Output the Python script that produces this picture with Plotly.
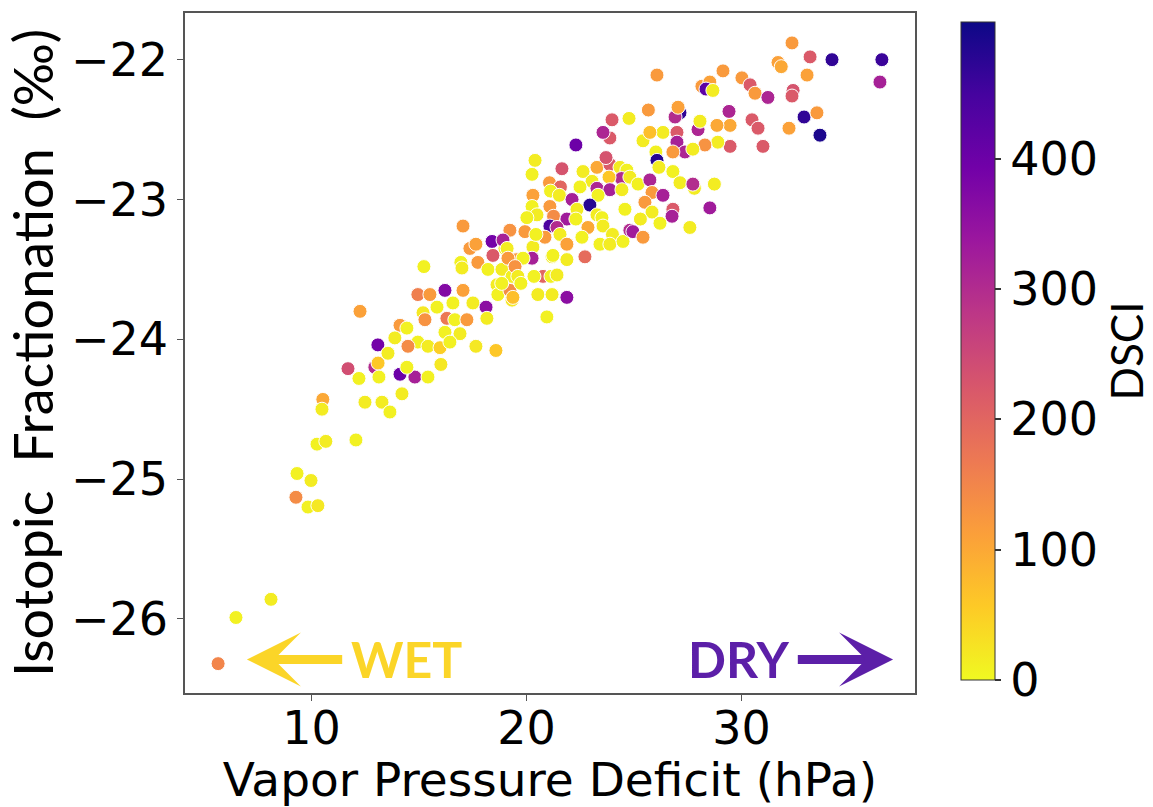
import plotly.graph_objects as go

# Vapor pressure deficit (hPa)
vpd = [
 5.66, 6.49, 8.12, 9.28, 9.33, 9.98, 9.84, 10.30, 10.26, 10.67, 12.07, 10.53, 10.49, 12.26, 11.70, 12.21,
 12.49, 12.95, 13.10, 13.14, 13.28, 13.65, 13.09, 13.56, 14.12, 14.81, 15.42, 14.21, 14.44, 16.02, 14.12, 14.44,
 13.88, 14.95, 14.49, 15.42, 15.98, 16.21, 16.91, 16.44, 17.65, 18.58, 15.23, 14.95, 15.51, 16.21, 17.05, 16.58,
 17.51, 15.84, 15.19, 15.28, 16.30, 16.67, 17.23, 18.12, 18.16, 16.95, 17.37, 17.65, 18.40, 18.44, 19.00, 17.00,
 17.74, 18.21, 18.86, 19.33, 19.56, 18.63, 18.67, 19.33, 19.23, 20.95, 20.53, 20.77, 21.14, 21.19, 21.88, 19.37,
 17.05, 18.85, 20.30,
 20.40, 20.26, 21.65, 22.30, 22.63, 23.28, 23.88, 23.70, 24.35, 24.67, 24.42, 23.84, 23.05, 22.49, 23.28, 23.88,
 24.44, 23.33, 21.07, 21.58, 21.12, 21.53, 20.30, 22.12, 22.95, 24.58, 21.09, 20.26, 20.49, 21.26, 20.02, 22.35,
 21.88, 21.09, 21.42, 22.30, 23.28, 23.51, 23.56, 22.86, 22.58, 24.00, 23.42, 23.88, 24.49, 24.81, 20.86, 19.93,
 19.23, 20.44, 21.56, 21.88, 21.23, 21.88, 22.72, 20.26, 19.84, 18.91, 19.10, 19.14, 19.47, 19.60, 19.74, 21.42,
 20.35, 21.19,
 26.07, 29.14, 31.70, 31.85, 32.35, 33.19, 34.21, 36.53, 36.44, 33.05, 30.02, 30.40, 30.63, 31.23, 32.40, 32.35,
 28.16, 28.53, 28.35, 28.67, 32.91, 33.51, 33.65, 32.21, 30.49, 30.77, 31.00, 29.42, 29.47, 29.47, 28.86, 28.90,
 28.30, 27.98, 28.07, 27.14, 26.91, 27.05, 26.35, 27.00, 27.00, 27.37, 26.81, 27.74, 26.02, 25.42, 25.74, 26.07,
 26.16, 26.81, 27.14, 25.67, 24.77, 23.98, 23.88, 23.56, 24.81, 25.19, 25.74, 25.84, 26.35, 25.51, 25.84, 26.81,
 26.77, 26.21, 25.30, 24.95, 25.42, 27.60, 27.81, 27.74, 28.74, 28.53,
]

# Isotopic fractionation (permil)
frac = [
 -26.32, -25.99, -25.86, -25.13, -24.96, -25.01, -25.20, -25.19, -24.75, -24.73, -24.72, -24.43, -24.50, -23.80, -24.21, -24.28,
 -24.45, -24.20, -24.17, -24.27, -24.45, -24.52, -24.04, -24.10, -24.25, -24.27, -24.27, -24.39, -24.20, -24.18, -23.90, -23.92,
 -23.99, -24.02, -24.05, -24.05, -24.06, -23.95, -23.96, -24.02, -24.05, -24.08, -23.48, -23.68, -23.68, -23.65, -23.65, -23.74,
 -23.74, -23.77, -23.81, -23.86, -23.85, -23.86, -23.86, -23.77, -23.85, -23.45, -23.35, -23.32, -23.30, -23.40, -23.35, -23.49,
 -23.45, -23.50, -23.50, -23.55, -23.43, -23.61, -23.68, -23.72, -23.65, -23.84, -23.68, -23.55, -23.55, -23.41, -23.70, -23.70,
 -23.19, -23.60, -23.34,
 -22.72, -22.82, -22.78, -22.61, -22.80, -22.77, -22.75, -22.70, -22.77, -22.79, -22.85, -22.84, -22.87, -22.91, -22.92, -22.93,
 -22.93, -22.97, -22.88, -22.91, -22.94, -22.97, -22.97, -23.00, -23.04, -23.07, -23.05, -23.05, -23.11, -23.12, -23.13, -23.07,
 -23.14, -23.19, -23.20, -23.14, -23.11, -23.13, -23.19, -23.20, -23.27, -23.25, -23.32, -23.32, -23.30, -23.22, -23.27, -23.23,
 -23.22, -23.25, -23.25, -23.32, -23.40, -23.43, -23.41, -23.42, -23.42, -23.29, -23.35, -23.42, -23.48, -23.55, -23.60, -23.54,
 -23.55, -23.68,
 -22.11, -22.08, -22.02, -22.05, -21.88, -21.98, -22.00, -22.00, -22.16, -22.11, -22.13, -22.18, -22.24, -22.27, -22.22, -22.26,
 -22.19, -22.16, -22.21, -22.22, -22.41, -22.38, -22.54, -22.49, -22.43, -22.49, -22.62, -22.37, -22.47, -22.62, -22.47, -22.59,
 -22.61, -22.50, -22.44, -22.38, -22.41, -22.34, -22.52, -22.52, -22.59, -22.66, -22.66, -22.64, -22.66, -22.58, -22.52, -22.72,
 -22.77, -22.80, -22.88, -22.36, -22.42, -22.43, -22.56, -22.52, -22.84, -22.89, -22.86, -22.95, -22.97, -23.02, -23.09, -23.07,
 -23.12, -23.17, -23.14, -23.23, -23.27, -23.20, -22.92, -22.89, -22.89, -23.06,
]

# Drought Severity and Coverage Index
dsci = [
 150, 10, 15, 140, 10, 15, 10, 20, 10, 15, 10, 100, 15, 110, 240, 10,
 15, 300, 60, 10, 15, 10, 390, 15, 400, 320, 10, 15, 10, 20, 120, 10,
 15, 10, 140, 15, 50, 10, 15, 10, 20, 60, 10, 160, 120, 370, 110, 10,
 15, 10, 20, 130, 170, 10, 120, 360, 15, 10, 120, 110, 390, 220, 10, 15,
 120, 10, 15, 10, 120, 15, 10, 20, 140, 10, 15, 200, 10, 15, 360, 70,
 120, 10, 15,
 15, 10, 230, 400, 15, 100, 220, 230, 15, 10, 300, 60, 15, 10, 310, 320,
 15, 10, 120, 200, 10, 15, 110, 320, 480, 10, 120, 10, 15, 140, 10, 15,
 330, 440, 300, 10, 15, 10, 15, 100, 10, 15, 10, 15, 10, 300, 120, 120,
 130, 10, 15, 110, 10, 15, 190, 320, 10, 320, 15, 120, 130, 15, 10, 15,
 10, 15,
 120, 120, 110, 100, 120, 220, 470, 460, 320, 110, 120, 220, 120, 310, 230, 220,
 120, 110, 420, 15, 470, 120, 490, 110, 220, 220, 220, 310, 100, 220, 100, 15,
 130, 310, 15, 470, 300, 110, 15, 220, 320, 310, 120, 15, 10, 15, 70, 480,
 15, 10, 15, 120, 15, 220, 220, 310, 15, 10, 310, 120, 320, 120, 15, 220,
 320, 10, 15, 330, 120, 15, 15, 300, 15, 330,
]

x_ticks = [10, 20, 30]
y_ticks = [-22, -23, -24, -25, -26]
cbar_ticks = [0, 100, 200, 300, 400]

fig = go.Figure()
fig.add_trace(go.Scatter(
    x=vpd, y=frac, mode="markers",
    marker=dict(
        size=14, color=dsci, colorscale="Plasma", reversescale=True,
        cmin=0, cmax=505,
        line=dict(color="white", width=1),
        colorbar=dict(
            x=1.063, xanchor="left", xpad=0, y=0.503, yanchor="middle", len=0.997,
            thickness=34, outlinewidth=1, outlinecolor="#333",
            ticks="outside", ticklen=6, tickwidth=1.5, tickcolor="#333",
            tickvals=cbar_ticks,
            tickfont=dict(family="DejaVu Sans", size=46, color="black"),
            title=dict(text="DSCI", side="right",
                       font=dict(family="Lato", size=44, color="black")),
        ),
    ),
    showlegend=False,
))

tick_font = dict(family="DejaVu Sans", size=46, color="black")
fig.update_xaxes(
    range=[4.12, 38.07], tickvals=x_ticks, tickfont=tick_font, automargin=False,
    showgrid=False, zeroline=False, showline=True, linecolor="#555", linewidth=1.5,
    mirror=True, ticks="outside", ticklen=6, tickcolor="#555", ticklabelstandoff=-12,
    title=dict(text="Vapor Pressure Deficit (hPa)", standoff=8,
               font=dict(family="DejaVu Sans", size=47, color="black")),
)
fig.update_yaxes(
    range=[-26.53, -21.666], tickvals=y_ticks, tickfont=tick_font, automargin=False,
    showgrid=False, zeroline=False, showline=True, linecolor="#555", linewidth=1.5,
    mirror=True, ticks="outside", ticklen=6, tickcolor="#555",
    title=dict(text="Isotopic\u00a0 Fractionation\u00a0 (‰)", standoff=8,
               font=dict(family="Lato", size=54, color="black")),
)

wet_color = "#FBD528"
dry_color = "#5C1FA8"
fig.add_annotation(x=7.0, y=-26.29, ax=11.5, ay=-26.29, xref="x", yref="y",
                   axref="x", ayref="y", text="", showarrow=True, arrowhead=3,
                   arrowwidth=9, arrowsize=1.0, arrowcolor=wet_color)
fig.add_annotation(x=37.05, y=-26.29, ax=32.55, ay=-26.29, xref="x", yref="y",
                   axref="x", ayref="y", text="", showarrow=True, arrowhead=3,
                   arrowwidth=9, arrowsize=1.0, arrowcolor=dry_color)
fig.add_annotation(x=14.40, y=-26.29, xref="x", yref="y", text="<b>WET</b>",
                   showarrow=False, font=dict(family="Lato", size=50, color=wet_color))
fig.add_annotation(x=29.88, y=-26.29, xref="x", yref="y", text="<b>DRY</b>",
                   showarrow=False, font=dict(family="Lato", size=50, color=dry_color))

fig.update_layout(
    width=1153, height=807,
    margin=dict(l=185, r=238, t=13, b=114, autoexpand=False),
    paper_bgcolor="white", plot_bgcolor="white",
)
fig.write_html("out.html")
